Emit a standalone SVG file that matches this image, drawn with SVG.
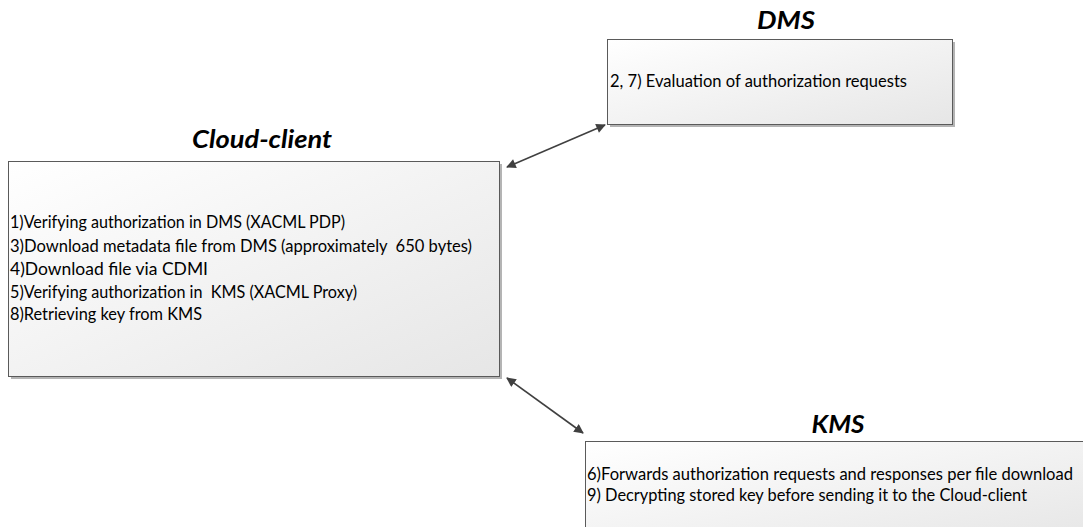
<svg xmlns="http://www.w3.org/2000/svg" width="1083" height="527" viewBox="0 0 1083 527">
  <defs>
    <linearGradient id="boxFill" x1="0" y1="0" x2="1" y2="1">
      <stop offset="0" stop-color="#ffffff"/>
      <stop offset="1" stop-color="#e6e6e6"/>
    </linearGradient>
    <marker id="head" viewBox="0 0 10 10" refX="9" refY="5" markerWidth="6.5" markerHeight="6" orient="auto-start-reverse" markerUnits="strokeWidth">
      <path d="M0,0 L10,5 L0,10 z" fill="#404040"/>
    </marker>
  </defs>
  <style>
    .box { fill: url(#boxFill); stroke: #5a5a5a; stroke-width: 1; }
    .shadow { fill: #b4b4b4; }
    .title { font-family: "Lato", "Open Sans", "Liberation Sans", sans-serif; font-weight: bold; font-style: italic; font-size: 25px; fill: #000; text-anchor: middle; }
    .body { font-family: "Lato", "Open Sans", "Liberation Sans", sans-serif; font-size: 17px; fill: #000; white-space: pre; }
    .link { stroke: #404040; stroke-width: 1.6; fill: none; marker-start: url(#head); marker-end: url(#head); }
  </style>
  <rect width="1083" height="527" fill="#ffffff"/>

  <g id="cloud-client">
    <text class="title" x="262" y="148" textLength="140" lengthAdjust="spacingAndGlyphs">Cloud-client</text>
    <rect class="shadow" x="11" y="164" width="491" height="215"/>
    <rect class="box" x="8.5" y="161.5" width="491" height="215"/>
    <text class="body" x="10" y="228" textLength="335" lengthAdjust="spacingAndGlyphs">1)Verifying authorization in DMS (XACML PDP)</text>
    <text class="body" x="10" y="252" textLength="462" lengthAdjust="spacingAndGlyphs" xml:space="preserve">3)Download metadata file from DMS (approximately  650 bytes)</text>
    <text class="body" x="10" y="275" textLength="198" lengthAdjust="spacingAndGlyphs">4)Download file via CDMI</text>
    <text class="body" x="10" y="298" textLength="347" lengthAdjust="spacingAndGlyphs" xml:space="preserve">5)Verifying authorization in  KMS (XACML Proxy)</text>
    <text class="body" x="10" y="320" textLength="192" lengthAdjust="spacingAndGlyphs">8)Retrieving key from KMS</text>
  </g>

  <g id="dms">
    <text class="title" x="786" y="29" textLength="58" lengthAdjust="spacingAndGlyphs">DMS</text>
    <rect class="shadow" x="610" y="42" width="345" height="85"/>
    <rect class="box" x="607.5" y="39.5" width="345" height="85"/>
    <text class="body" x="610" y="87" textLength="297" lengthAdjust="spacingAndGlyphs">2, 7) Evaluation of authorization requests</text>
  </g>

  <g id="kms">
    <text class="title" x="838" y="433" textLength="53" lengthAdjust="spacingAndGlyphs">KMS</text>
    <rect class="shadow" x="588" y="444" width="500" height="100"/>
    <rect class="box" x="585.5" y="441.5" width="500" height="100"/>
    <text class="body" x="587" y="480" textLength="486" lengthAdjust="spacingAndGlyphs">6)Forwards authorization requests and responses per file download</text>
    <text class="body" x="587" y="501" textLength="440" lengthAdjust="spacingAndGlyphs">9) Decrypting stored key before sending it to the Cloud-client</text>
  </g>

  <g id="connectors">
    <line class="link" x1="507" y1="167" x2="605" y2="125"/>
    <line class="link" x1="507" y1="378" x2="583" y2="433"/>
  </g>
</svg>
